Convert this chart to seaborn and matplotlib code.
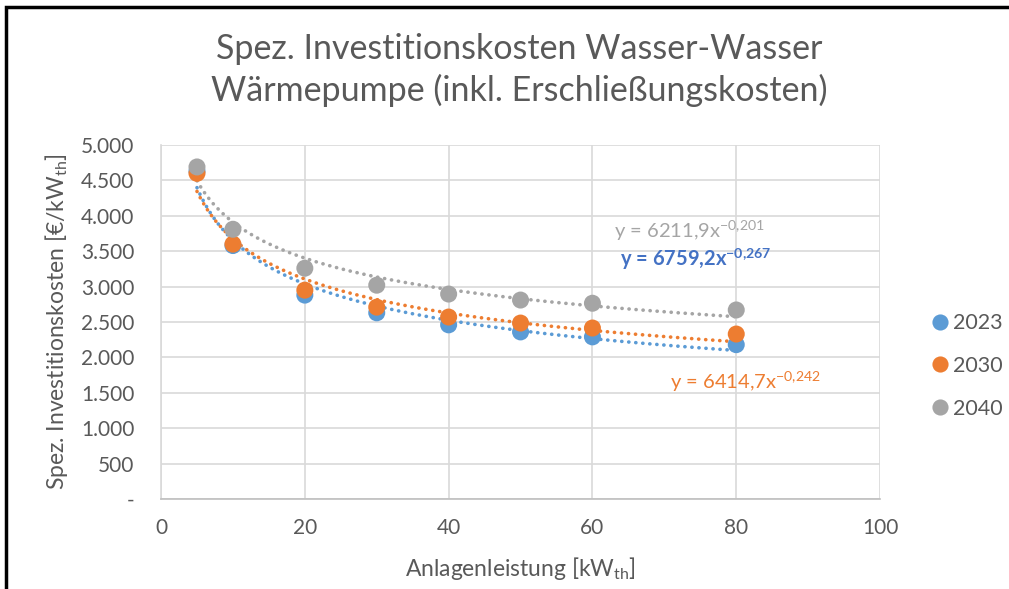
import numpy as np
import pandas as pd
import seaborn as sns
import matplotlib.pyplot as plt
from matplotlib.patches import Rectangle
from matplotlib.ticker import FuncFormatter

# Anlagenleistung [kW_th] and spec. investment costs [EUR/kW_th]
leistung = [5, 10, 20, 30, 40, 50, 60, 80]
kosten_2023 = [4630, 3580, 2880, 2630, 2460, 2360, 2290, 2180]
kosten_2030 = [4600, 3600, 2950, 2710, 2570, 2485, 2415, 2330]
kosten_2040 = [4690, 3810, 3260, 3020, 2895, 2810, 2765, 2670]
jahre = ['2023', '2030', '2040']

# power trend lines y = a * x^b as given in the chart
trend_a = [6759.2, 6414.7, 6211.9]
trend_b = [-0.267, -0.242, -0.201]
trend_labels = ['y = 6759,2x$^{\\mathregular{-0{,}267}}$',
                'y = 6414,7x$^{\\mathregular{-0{,}242}}$',
                'y = 6211,9x$^{\\mathregular{-0{,}201}}$']

farben = ['#5B9BD5', '#ED7D31', '#A5A5A5']
text_farben = ['#4472C4', '#ED7D31', '#A5A5A5']

df = pd.DataFrame({'x': leistung * 3,
                   'y': kosten_2023 + kosten_2030 + kosten_2040,
                   'Jahr': [j for j in jahre for _ in leistung]})

sns.set_style('white')
plt.rcParams['font.family'] = ['Lato', 'DejaVu Sans']
plt.rcParams['mathtext.fontset'] = 'custom'
plt.rcParams['mathtext.rm'] = 'Lato'
plt.rcParams['mathtext.it'] = 'Lato'
plt.rcParams['mathtext.bf'] = 'Lato:bold'
grau = '#595959'

fig = plt.figure(figsize=(10.09, 5.89), dpi=100)
ax = fig.add_axes([0.1596, 0.1528, 0.7126, 0.601])

# trend lines
x_fit = np.linspace(min(leistung), max(leistung), 200)
for a, b, c in zip(trend_a, trend_b, farben):
    sns.lineplot(x=x_fit, y=a * x_fit ** b, ax=ax, color=c, lw=2.6,
                 linestyle=(0, (0.05, 1.9)), dash_capstyle='round', zorder=2)

sns.scatterplot(data=df, x='x', y='y', hue='Jahr', palette=farben, s=150,
                edgecolor='none', ax=ax, zorder=3)

ax.set_xlim(0, 100)
ax.set_ylim(0, 5000)
ax.set_xticks(range(0, 101, 20))
ax.set_yticks(range(0, 5001, 500))
ax.yaxis.set_major_formatter(FuncFormatter(
    lambda v, p: '-' if v == 0 else f'{int(v):,}'.replace(',', '.')))
ax.grid(True, color='#D9D9D9', lw=1.2)
ax.set_axisbelow(True)
for s in ['top', 'right']:
    ax.spines[s].set_visible(False)
ax.spines['left'].set_color('#D9D9D9')
ax.spines['bottom'].set_color('#BFBFBF')
ax.spines['left'].set_linewidth(1.2)
ax.spines['bottom'].set_linewidth(1.2)
ax.tick_params(colors=grau, labelsize=15, length=0)
ax.tick_params(axis='x', pad=14)
ax.tick_params(axis='y', pad=19)

ax.set_xlabel('Anlagenleistung [kW$_{\\mathregular{th}}$]', color=grau, fontsize=16.5, labelpad=12)
ax.set_ylabel('Spez. Investitionskosten [€/kW$_{\\mathregular{th}}$]', color=grau, fontsize=16.5, labelpad=8)

# equation labels
ax.text(63.8, 3200, trend_labels[0], color=text_farben[0], fontsize=14.5, fontweight='bold', va='bottom')
ax.text(70.8, 1480, trend_labels[1], color=text_farben[1], fontsize=14.5, va='bottom')
ax.text(63, 3620, trend_labels[2], color=text_farben[2], fontsize=14.5, va='bottom')

handles, labels = ax.get_legend_handles_labels()
leg = ax.legend(handles, labels, loc='center left', bbox_to_anchor=(1.072, 0.376),
                frameon=False, fontsize=15.5, labelcolor=grau, handletextpad=0.2,
                handlelength=0.8, labelspacing=1.05, borderpad=0, borderaxespad=0,
                markerscale=0.95)

fig.text(0.515, 0.881, 'Spez. Investitionskosten Wasser-Wasser\nWärmepumpe (inkl. Erschließungskosten)',
         ha='center', va='center', color=grau, fontsize=24.5, linespacing=1.3)

# frame around the chart (cut off at right and bottom)
fig.patches.append(Rectangle((6 / 1009, -0.1), 1.2, 1.1 - 6.5 / 589, transform=fig.transFigure,
                             fill=False, edgecolor='black', lw=2.5))

plt.savefig('out.png', dpi=100)
